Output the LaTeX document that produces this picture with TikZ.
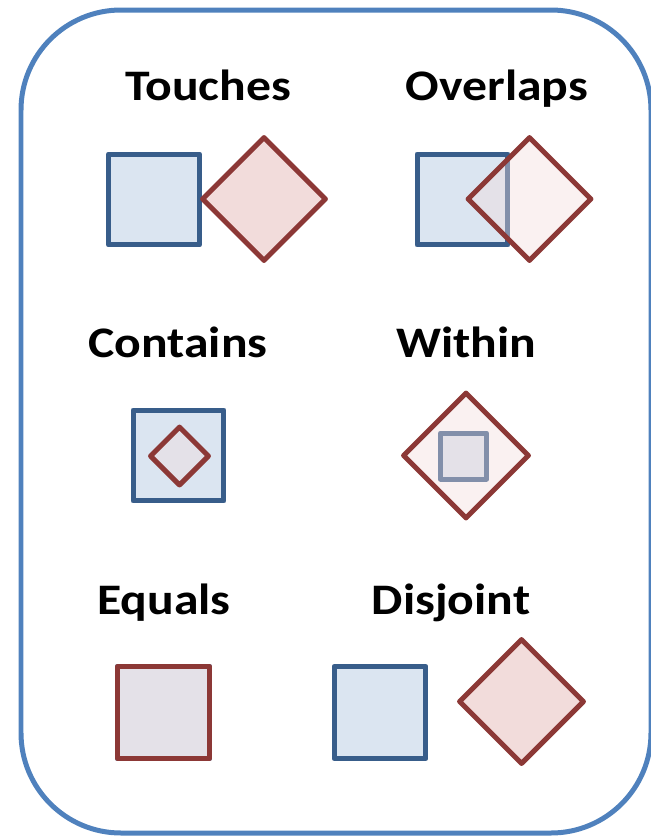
\documentclass[tikz,border=0pt]{standalone}
\usepackage{fontspec}
\setmainfont{Carlito}
\newfontfamily\titrefont{Carlito}[FakeStretch=1.14]
\usepackage{tikz}
\usetikzlibrary{shapes.geometric,positioning}
\definecolor{bleuCadre}{RGB}{79,129,189}
\definecolor{bleuBord}{RGB}{56,93,138}
\definecolor{bleuFond}{RGB}{219,229,241}
\definecolor{rougeBord}{RGB}{140,56,54}
\definecolor{roseFond}{RGB}{242,220,219}

\tikzset{
  carre/.style={rectangle, draw=bleuBord, fill=bleuFond, line width=0.1cm,
                line join=round, minimum size=1.82cm, inner sep=0pt},
  losange/.style={diamond, draw=rougeBord, fill=roseFond, line width=0.1cm,
                  line join=round, minimum size=2.5cm, inner sep=0pt},
  transp/.style={fill opacity=0.4},
  titre/.style={font=\titrefont\bfseries\fontsize{24.8}{30}\selectfont, anchor=base}
}

\begin{document}
\begin{tikzpicture}[x=0.02cm, y=-0.02cm]
\useasboundingbox (0,0) rectangle (650,836);

\draw[bleuCadre, line width=0.1cm, rounded corners=2cm] (21,10) rectangle (651,833);

% Touches
\node[titre] (titreTouches) at (208,100) {Touches};
\node[carre] (touchesCarre) at (154,199.5) {};
\node[losange] (touchesLosange) at (264,199) {};

% Overlaps
\node[titre] (titreOverlaps) at (497,100) {Overlaps};
\node[carre] (overlapsCarre) at (462.5,199.5) {};
\node[losange, transp] (overlapsLosange) at (529.5,199) {};

% Contains
\node[titre] (titreContains) at (178,357) {Contains};
\node[carre] (containsCarre) at (178.5,455.5) {};
\node[losange, transp, minimum size=1.2cm] (containsLosange) at (179.5,456) {};

% Within
\node[titre] (titreWithin) at (466,357) {Within};
\node[carre, minimum size=0.92cm] (withinCarre) at (463.5,456) {};
\node[losange, transp, minimum size=2.54cm] (withinLosange) at (466,455.5) {};

% Equals
\node[titre] (titreEquals) at (164,614) {Equals};
\node[carre, minimum size=1.84cm] (equalsCarre) at (163.5,712.5) {};
\node[carre, draw=rougeBord, fill=roseFond, transp, minimum size=1.84cm] (equalsCarreRouge) at (163.5,712.5) {};

% Disjoint
\node[titre] (titreDisjoint) at (451,614) {Disjoint};
\node[carre, minimum size=1.84cm] (disjointCarre) at (380,712.5) {};
\node[losange, minimum size=2.52cm] (disjointLosange) at (521.5,701.5) {};

\end{tikzpicture}
\end{document}
